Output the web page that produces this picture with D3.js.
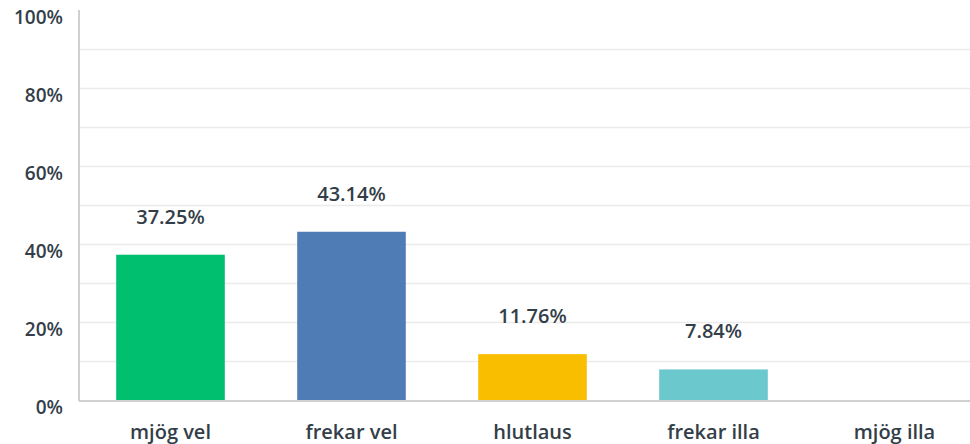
<!DOCTYPE html>
<html>
<head>
<meta charset="utf-8">
<script src="https://cdn.jsdelivr.net/npm/d3@7"></script>
<style>
  body { margin: 0; background: #fff; }
  svg { display: block; font-family: "Open Sans", sans-serif; }
</style>
</head>
<body>
<div id="chart"></div>
<script>
// answer options and share of responses (%)
let categories = ["mjög vel", "frekar vel", "hlutlaus", "frekar illa", "mjög illa"];
let values = [37.25, 43.14, 11.76, 7.84, 0];
let valueLabels = ["37.25%", "43.14%", "11.76%", "7.84%", ""];
let barColors = ["#00bf6f", "#507cb6", "#f9be00", "#6bc8cd", "#a5a5a5"];
let yTicks = [0, 20, 40, 60, 80, 100];
let gridTicks = [10, 20, 30, 40, 50, 60, 70, 80, 90];

let W = 970, H = 444;
let plotLeft = 80, plotRight = 985, plotTop = 10, plotBottom = 400;

let svg = d3.select("#chart").append("svg")
    .attr("width", W)
    .attr("height", H);

let x = d3.scaleBand()
    .domain(categories)
    .range([plotLeft, plotRight])
    .paddingInner(0.4)
    .paddingOuter(0.2);

let y = d3.scaleLinear()
    .domain([0, 100])
    .range([plotBottom, plotTop]);

// grid
svg.append("g")
    .selectAll("line")
    .data(gridTicks)
    .enter()
    .append("line")
    .attr("x1", plotLeft)
    .attr("x2", W)
    .attr("y1", d => y(d) + 0.5)
    .attr("y2", d => y(d) + 0.5)
    .attr("stroke", "#ebebeb")
    .attr("stroke-width", 1.5);

// y axis labels (sit a little below their gridline)
svg.append("g")
    .selectAll("text")
    .data(yTicks)
    .enter()
    .append("text")
    .attr("x", 63)
    .attr("y", d => y(d) + 14)
    .attr("text-anchor", "end")
    .attr("font-size", 19)
    .attr("font-weight", 600)
    .attr("fill", "#333e48")
    .text(d => d + "%");

// bars
svg.append("g")
    .selectAll("rect")
    .data(values)
    .enter()
    .append("rect")
    .attr("x", (d, i) => x(categories[i]))
    .attr("width", x.bandwidth())
    .attr("y", d => y(d))
    .attr("height", d => y(0) - y(d))
    .attr("fill", (d, i) => barColors[i]);

// value labels
svg.append("g")
    .selectAll("text")
    .data(values)
    .enter()
    .append("text")
    .attr("x", (d, i) => x(categories[i]) + x.bandwidth() / 2)
    .attr("y", d => y(d) - 31)
    .attr("text-anchor", "middle")
    .attr("font-size", 20)
    .attr("font-weight", 600)
    .attr("fill", "#333e48")
    .text((d, i) => valueLabels[i]);

// axis lines
svg.append("line")
    .attr("x1", plotLeft - 1).attr("x2", plotLeft - 1)
    .attr("y1", plotTop).attr("y2", plotBottom + 1)
    .attr("stroke", "#d0d0d0")
    .attr("stroke-width", 2);
svg.append("line")
    .attr("x1", plotLeft - 1).attr("x2", W)
    .attr("y1", plotBottom + 1).attr("y2", plotBottom + 1)
    .attr("stroke", "#d0d0d0")
    .attr("stroke-width", 2);

// category labels
svg.append("g")
    .selectAll("text")
    .data(categories)
    .enter()
    .append("text")
    .attr("x", d => x(d) + x.bandwidth() / 2)
    .attr("y", 439)
    .attr("text-anchor", "middle")
    .attr("font-size", 20)
    .attr("font-weight", 600)
    .attr("fill", "#333e48")
    .text(d => d);
</script>
</body>
</html>
